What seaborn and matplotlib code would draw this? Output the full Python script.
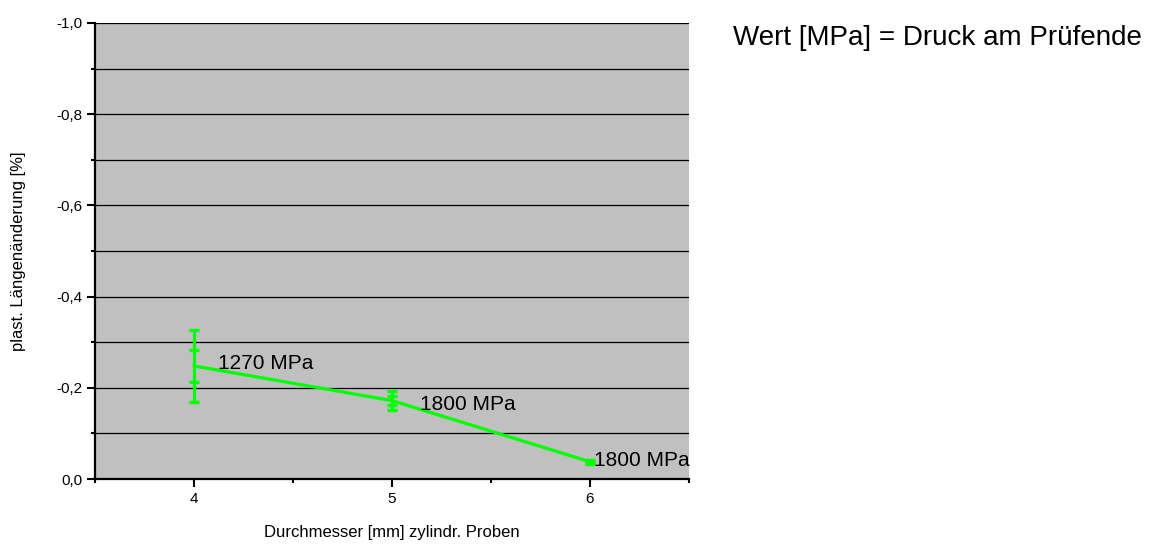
import matplotlib
matplotlib.use("Agg")
import matplotlib.pyplot as plt
import matplotlib.ticker as mticker
import seaborn as sns
import pandas as pd

# ---- data ----
diameters = [4, 5, 6]
strain = [-0.248, -0.172, -0.038]
err_outer = [0.078, 0.020, 0.004]
err_inner = [0.035, 0.010, 0.002]
point_labels = ["1270 MPa", "1800 MPa", "1800 MPa"]
x_label = "Durchmesser [mm] zylindr. Proben"
y_label = "plast. Längenänderung [%]"
note = "Wert [MPa] = Druck am Prüfende"

sns.set_style("white")
plt.rcParams['font.family'] = ['Liberation Sans', 'DejaVu Sans']
plt.rcParams['text.color'] = 'black'
plt.rcParams['axes.labelcolor'] = 'black'
plt.rcParams['xtick.color'] = 'black'
plt.rcParams['ytick.color'] = 'black'

df = pd.DataFrame({"d": diameters, "s": strain})

fig = plt.figure(figsize=(11.54, 5.45), dpi=100)
ax = fig.add_axes([0.0823, 0.121, 0.5147, 0.837])
ax.set_facecolor("#C0C0C0")

green = "#00FF00"
sns.lineplot(data=df, x="d", y="s", ax=ax, color=green, linewidth=2.3, zorder=3)
ax.errorbar(diameters, strain, yerr=err_outer, fmt="none", ecolor=green,
            elinewidth=2.2, capsize=3.5, capthick=2.4, zorder=3)
ax.errorbar(diameters, strain, yerr=err_inner, fmt="none", ecolor=green,
            elinewidth=2.2, capsize=3.5, capthick=2.4, zorder=3)

offsets = [(17, 2), (20, -3), (3, 1)]
for x, y, t, off in zip(diameters, strain, point_labels, offsets):
    ax.annotate(t, (x, y), xytext=off, textcoords="offset points",
                ha="left", va="center", fontsize=15, color="black", zorder=4)

ax.set_xlim(3.5, 6.5)
ax.set_ylim(0.0, -1.0)
ax.xaxis.set_major_locator(mticker.FixedLocator([4, 5, 6]))
ax.xaxis.set_minor_locator(mticker.FixedLocator([3.5, 4.5, 5.5, 6.5]))
ax.yaxis.set_major_locator(mticker.MultipleLocator(0.2))
ax.yaxis.set_minor_locator(mticker.MultipleLocator(0.1))
ax.yaxis.set_major_formatter(mticker.FuncFormatter(
    lambda v, p: f"{v:.1f}".replace(".", ",").replace("-0,0", "0,0")))

ax.grid(True, which="both", axis="y", color="black", linewidth=0.9)
ax.set_axisbelow(True)

for side in ["top", "right"]:
    ax.spines[side].set_visible(False)
for side in ["left", "bottom"]:
    ax.spines[side].set_color("black")
    ax.spines[side].set_linewidth(1.6)

ax.tick_params(axis="both", which="major", direction="out", length=6,
               width=1.5, color="black", labelsize=11, pad=3, left=True, bottom=True)
ax.tick_params(axis="both", which="minor", direction="out", length=3,
               width=1.5, color="black", left=True, bottom=True)

ax.set_xlabel(x_label, fontsize=12, labelpad=14)
ax.set_ylabel(y_label, fontsize=12, labelpad=22)

fig.text(0.635, 0.93, note, fontsize=20, ha="left", va="center", color="black")

fig.savefig("out.png", dpi=100)
